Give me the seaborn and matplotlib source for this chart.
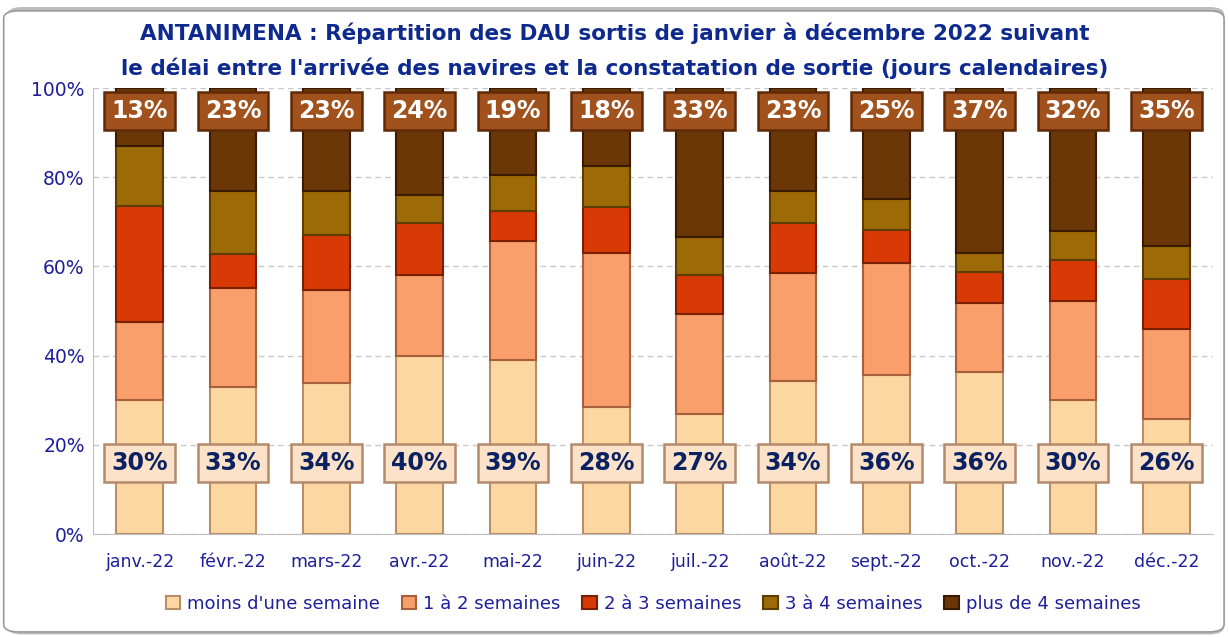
import matplotlib.pyplot as plt
import numpy as np
import pandas as pd
import seaborn as sns
from matplotlib.patches import FancyBboxPatch

# month labels and share (%) of each delay class
months = ["janv.-22", "févr.-22", "mars-22", "avr.-22", "mai-22", "juin-22",
          "juil.-22", "août-22", "sept.-22", "oct.-22", "nov.-22", "déc.-22"]
moins_1sem = [30.0, 33.0, 33.8, 39.8, 39.0, 28.4, 26.8, 34.3, 35.7, 36.3, 30.0, 25.7]
sem_1_2 = [17.5, 22.1, 20.8, 18.3, 26.8, 34.5, 22.5, 24.2, 25.0, 15.6, 22.2, 20.2]
sem_2_3 = [26.0, 7.6, 12.4, 11.6, 6.6, 10.5, 8.8, 11.2, 7.5, 6.8, 9.2, 11.2]
sem_3_4 = [13.5, 14.3, 10.0, 6.3, 8.2, 9.1, 8.6, 7.3, 6.9, 4.2, 6.5, 7.5]
plus_4sem = [13.0, 23.0, 23.0, 24.0, 19.4, 17.5, 33.3, 23.0, 24.9, 37.1, 32.1, 35.4]

series_names = ["moins d'une semaine", "1 à 2 semaines", "2 à 3 semaines",
                "3 à 4 semaines", "plus de 4 semaines"]
series_vals = [moins_1sem, sem_1_2, sem_2_3, sem_3_4, plus_4sem]
colors = ["#FDD7A2", "#F89F6B", "#D93A05", "#9C6A07", "#6B3707"]
edges = ["#B88E68", "#A8603C", "#7A2000", "#5E3C00", "#3A1A00"]

navy = "#0E2A8E"
tick_blue = "#1E1E9A"

sns.set_style("white")
plt.rcParams["font.family"] = ["DejaVu Sans"]

fig = plt.figure(figsize=(12.29, 6.37), dpi=100)
ax = fig.add_axes([93 / 1229, 1 - 534 / 637, 1120 / 1229, 446 / 637])

# outer rounded frame with a soft shadow
shadow = FancyBboxPatch((0.006, 0.004), 0.99, 0.985, boxstyle="round,pad=0,rounding_size=0.012",
                        transform=fig.transFigure, facecolor="#BDBDBD", edgecolor="none", zorder=-3)
frame = FancyBboxPatch((0.003, 0.008), 0.993, 0.975, boxstyle="round,pad=0,rounding_size=0.012",
                       transform=fig.transFigure, facecolor="white", edgecolor="#9A9A9A",
                       linewidth=1.2, zorder=-2)
fig.patches.extend([shadow, frame])
fig.patch.set_alpha(0)

df = pd.DataFrame({"mois": months})
bottom = np.zeros(len(months))
for name, vals, col, ec in zip(series_names, series_vals, colors, edges):
    df["val"] = vals
    sns.barplot(data=df, x="mois", y="val", bottom=bottom, color=col, saturation=1, width=0.5,
                edgecolor=ec, linewidth=1.5, label=name, ax=ax, zorder=3)
    bottom = bottom + np.array(vals)

# value labels: first class near the base, last class near the top
for i in range(len(months)):
    ax.text(i, 16, f"{moins_1sem[i]:.0f}%", ha="center", va="center", fontsize=17,
            fontweight="bold", color="#0B2262", zorder=5,
            bbox=dict(boxstyle="square,pad=0.3", facecolor="#FCE2C8", edgecolor="#B48A6C", linewidth=1.8))
    ax.text(i, 94.8, f"{plus_4sem[i]:.0f}%", ha="center", va="center", fontsize=17,
            fontweight="bold", color="white", zorder=5,
            bbox=dict(boxstyle="square,pad=0.3", facecolor="#A0511C", edgecolor="#5E2A08", linewidth=1.8))

ax.set_ylim(0, 100)
ax.set_xlim(-0.5, len(months) - 0.5)
ax.set_yticks(np.arange(0, 101, 20))
ax.set_yticklabels([f"{v}%" for v in range(0, 101, 20)], fontsize=13.5, color=tick_blue)
ax.set_xticks(range(len(months)))
ax.set_xticklabels(months, fontsize=12.5, color=tick_blue)
ax.tick_params(axis="x", length=0, pad=14)
ax.tick_params(axis="y", length=0, pad=6)
ax.set_xticks(np.arange(-0.5, len(months) + 0.5, 1), minor=True)
ax.tick_params(axis="x", which="minor", length=6, color="#BFBFBF")
ax.set_xlabel("")
ax.set_ylabel("")
ax.grid(axis="y", linestyle=(0, (4, 3)), color="#C8C8C8", linewidth=1, zorder=0)
for side in ["top", "right"]:
    ax.spines[side].set_visible(False)
ax.spines["left"].set_color("#BFBFBF")
ax.spines["bottom"].set_color("#BFBFBF")

fig.text(0.5, 0.948, "ANTANIMENA : Répartition des DAU sortis de janvier à décembre 2022 suivant",
         ha="center", va="center", fontsize=15.5, fontweight="bold", color=navy)
fig.text(0.5, 0.893, "le délai entre l'arrivée des navires et la constatation de sortie (jours calendaires)",
         ha="center", va="center", fontsize=15.5, fontweight="bold", color=navy)

leg = ax.legend(loc="upper center", bbox_to_anchor=(0.5, -0.1), ncol=5, frameon=False,
                fontsize=13, handlelength=0.8, handleheight=0.8, handletextpad=0.4, columnspacing=1.2)
for t in leg.get_texts():
    t.set_color(tick_blue)

fig.savefig("out.png", dpi=100)
